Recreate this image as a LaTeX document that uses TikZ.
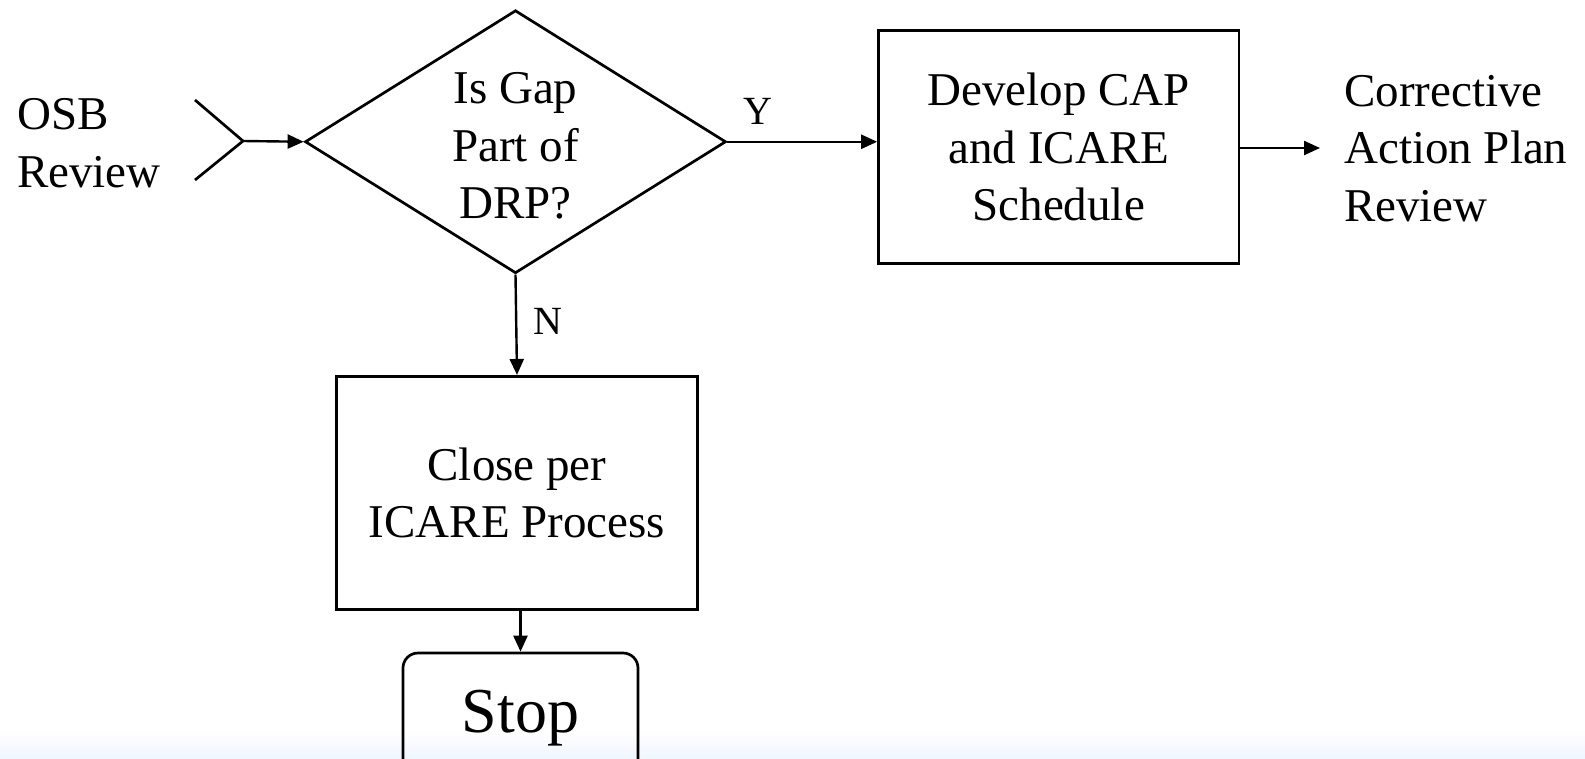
\documentclass[tikz,border=0pt]{standalone}
\usepackage{fontspec}
\setmainfont{Liberation Serif}
\usetikzlibrary{shapes.geometric,arrows.meta,calc}
\definecolor{bgblue}{RGB}{240,246,254}
\tikzset{
  x=1pt, y=-1pt,
  line/.style={line width=2.7pt},
  arr/.style={line width=2.4pt, -{Triangle[length=16pt,width=14pt]}},
  txt/.style={font=\fontsize{47}{57.6}\selectfont, align=center, inner sep=0pt},
  boxnode/.style={draw, line width=2.7pt, txt, minimum width=#1, minimum height=233pt},
  decision/.style={draw, line width=2.7pt, shape=diamond, inner sep=0pt, aspect=1.6, minimum width=421pt, minimum height=263pt},
  yn/.style={font=\fontsize{40}{48}\selectfont, inner sep=0pt}
}
\begin{document}
\begin{tikzpicture}
\useasboundingbox (0,0) rectangle (1585,758);
\clip (0,0) rectangle (1585,758);
\shade[top color=white, bottom color=bgblue] (0,728) rectangle (1585,758);

\node[txt, align=left, anchor=west] (osb) at (17,143) {OSB\\Review};
\coordinate (osbtop) at (195,100);
\coordinate (osbbot) at (195,180);
\coordinate (osbtip) at (243,141);

\node[decision] (dia) at (515.5,141.75) {};
\node[txt] (diatext) at (515.5,146) {Is Gap\\Part of\\DRP?};
\node[boxnode=360.5pt] (cap) at (1058.75,147.2) {Develop CAP\\and ICARE\\Schedule};
\node[txt, align=left, anchor=west] (cor) at (1344,148.6) {Corrective\\Action Plan\\Review};
\node[boxnode=361pt] (close) at (517,492.8) {Close per\\ICARE Process};
\node[draw, line width=2.7pt, rounded corners=15pt, minimum width=235pt, minimum height=130pt,
      font=\fontsize{64}{70}\selectfont, inner sep=0pt] (stop) at (520.5,718) {Stop};

\node[yn] (ylab) at (758,111) {Y};
\node[yn] (nlab) at (548,321) {N};

\draw[line] (osbtop) -- (osbtip) -- (osbbot);
\draw[arr] (osbtip) -- (dia.west);
\draw[arr] (dia.east) -- (dia.east -| cap.west);
\draw[arr] (dia.south) -- (close.north);
\draw[arr] (stop.north |- close.south) -- (stop.north);
\draw[arr] (cap.east |- 0,148) -- ([xshift=-24pt]cor.west |- 0,148);
\end{tikzpicture}
\end{document}
